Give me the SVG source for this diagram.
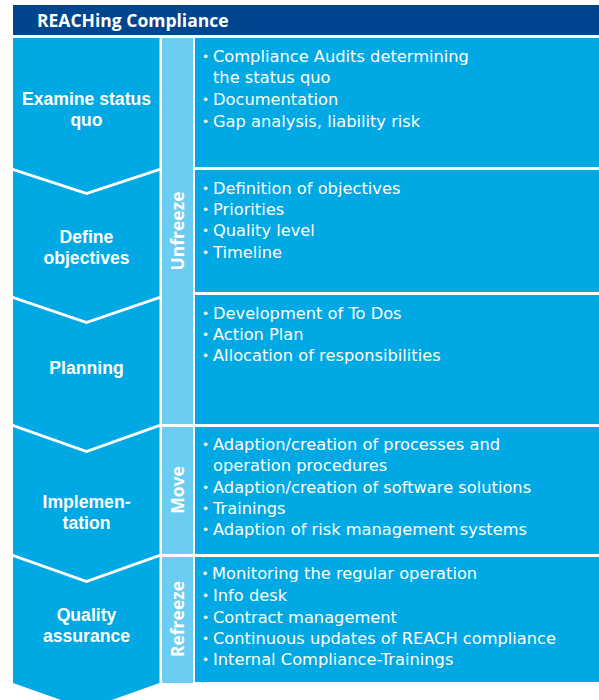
<svg xmlns="http://www.w3.org/2000/svg" width="599" height="700" viewBox="0 0 599 700">
<style>
.hdr{fill:#00468e}
.main{fill:#00a9e3}
.lite{fill:#6ccdf2}
.t{font-family:"Open Sans","Noto Sans",sans-serif;fill:#ffffff;font-size:17.5px}
.b{font-weight:bold}
.l{font-family:"Liberation Sans",Arial,sans-serif;font-size:17.6px}
.li{font-family:"DejaVu Sans",sans-serif;font-size:16.25px}
.bu{font-size:12px}
.c{text-anchor:middle}
</style>
<rect width="599" height="700" fill="#ffffff"/>
<g id="header">
<rect class="hdr" x="13" y="5" width="586" height="30"/>
<text class="t b" x="37" y="26.5">REACHing Compliance</text>
</g>
<g id="step-examine">
<polygon class="main" points="13,38 159.5,38 159.5,168 86.5,192 13,168"/>
<text class="t b l c"><tspan x="86.5" y="105">Examine status</tspan><tspan x="86.5" y="126">quo</tspan></text>
</g>
<g id="step-define">
<polygon class="main" points="13,171 86.5,195 159.5,171 159.5,296 86.5,321 13,296"/>
<text class="t b l c"><tspan x="86.5" y="243">Define</tspan><tspan x="86.5" y="264">objectives</tspan></text>
</g>
<g id="step-planning">
<polygon class="main" points="13,299 86.5,324 159.5,299 159.5,424 86.5,450 13,424"/>
<text class="t b l c" x="86.5" y="374">Planning</text>
</g>
<g id="step-implementation">
<polygon class="main" points="13,427 86.5,453 159.5,427 159.5,554 86.5,580 13,554"/>
<text class="t b l c"><tspan x="86.5" y="508">Implemen-</tspan><tspan x="86.5" y="529">tation</tspan></text>
</g>
<g id="step-quality">
<polygon class="main" points="13,557 86.5,583 159.5,557 159.5,683 86.5,709 13,683"/>
<text class="t b l c"><tspan x="86.5" y="621">Quality</tspan><tspan x="86.5" y="642">assurance</tspan></text>
</g>
<g id="phase-unfreeze">
<rect class="lite" x="162" y="38" width="31" height="386"/>
<text class="t b c" transform="translate(183.5,231) rotate(-90)">Unfreeze</text>
</g>
<g id="phase-move">
<rect class="lite" x="162" y="427" width="31" height="127"/>
<text class="t b c" transform="translate(183.5,490) rotate(-90)">Move</text>
</g>
<g id="phase-refreeze">
<rect class="lite" x="162" y="557" width="31" height="126"/>
<text class="t b c" transform="translate(183.5,619) rotate(-90)">Refreeze</text>
</g>
<g id="box-examine">
<rect class="main" x="195" y="38" width="404" height="129"/>
<text class="t li"><tspan class="bu" x="202" y="61">•</tspan><tspan x="213" y="62">Compliance Audits determining</tspan><tspan x="213" y="83">the status quo</tspan><tspan class="bu" x="202" y="104">•</tspan><tspan x="213" y="105">Documentation</tspan><tspan class="bu" x="202" y="126">•</tspan><tspan x="213" y="127">Gap analysis, liability risk</tspan></text>
</g>
<g id="box-define">
<rect class="main" x="195" y="170" width="404" height="122"/>
<text class="t li"><tspan class="bu" x="202" y="193">•</tspan><tspan x="213" y="194">Definition of objectives</tspan><tspan class="bu" x="202" y="214">•</tspan><tspan x="213" y="215">Priorities</tspan><tspan class="bu" x="202" y="235">•</tspan><tspan x="213" y="236">Quality level</tspan><tspan class="bu" x="202" y="257">•</tspan><tspan x="213" y="258">Timeline</tspan></text>
</g>
<g id="box-planning">
<rect class="main" x="195" y="295" width="404" height="129"/>
<text class="t li"><tspan class="bu" x="202" y="318">•</tspan><tspan x="213" y="319">Development of To Dos</tspan><tspan class="bu" x="202" y="339">•</tspan><tspan x="213" y="340">Action Plan</tspan><tspan class="bu" x="202" y="360">•</tspan><tspan x="213" y="361">Allocation of responsibilities</tspan></text>
</g>
<g id="box-implementation">
<rect class="main" x="195" y="427" width="404" height="127"/>
<text class="t li"><tspan class="bu" x="202" y="449">•</tspan><tspan x="213" y="450">Adaption/creation of processes and</tspan><tspan x="213" y="471">operation procedures</tspan><tspan class="bu" x="202" y="492">•</tspan><tspan x="213" y="493">Adaption/creation of software solutions</tspan><tspan class="bu" x="202" y="513">•</tspan><tspan x="213" y="514">Trainings</tspan><tspan class="bu" x="202" y="534">•</tspan><tspan x="213" y="535">Adaption of risk management systems</tspan></text>
</g>
<g id="box-quality">
<rect class="main" x="195" y="557" width="404" height="125"/>
<text class="t li"><tspan class="bu" x="201.5" y="578">•</tspan><tspan x="212" y="579">Monitoring the regular operation</tspan><tspan class="bu" x="202" y="600">•</tspan><tspan x="213" y="601">Info desk</tspan><tspan class="bu" x="202" y="622">•</tspan><tspan x="213" y="623">Contract management</tspan><tspan class="bu" x="202" y="643">•</tspan><tspan x="213" y="644">Continuous updates of REACH compliance</tspan><tspan class="bu" x="202" y="664">•</tspan><tspan x="213" y="665">Internal Compliance-Trainings</tspan></text>
</g>
<g id="connectors"></g>
</svg>
